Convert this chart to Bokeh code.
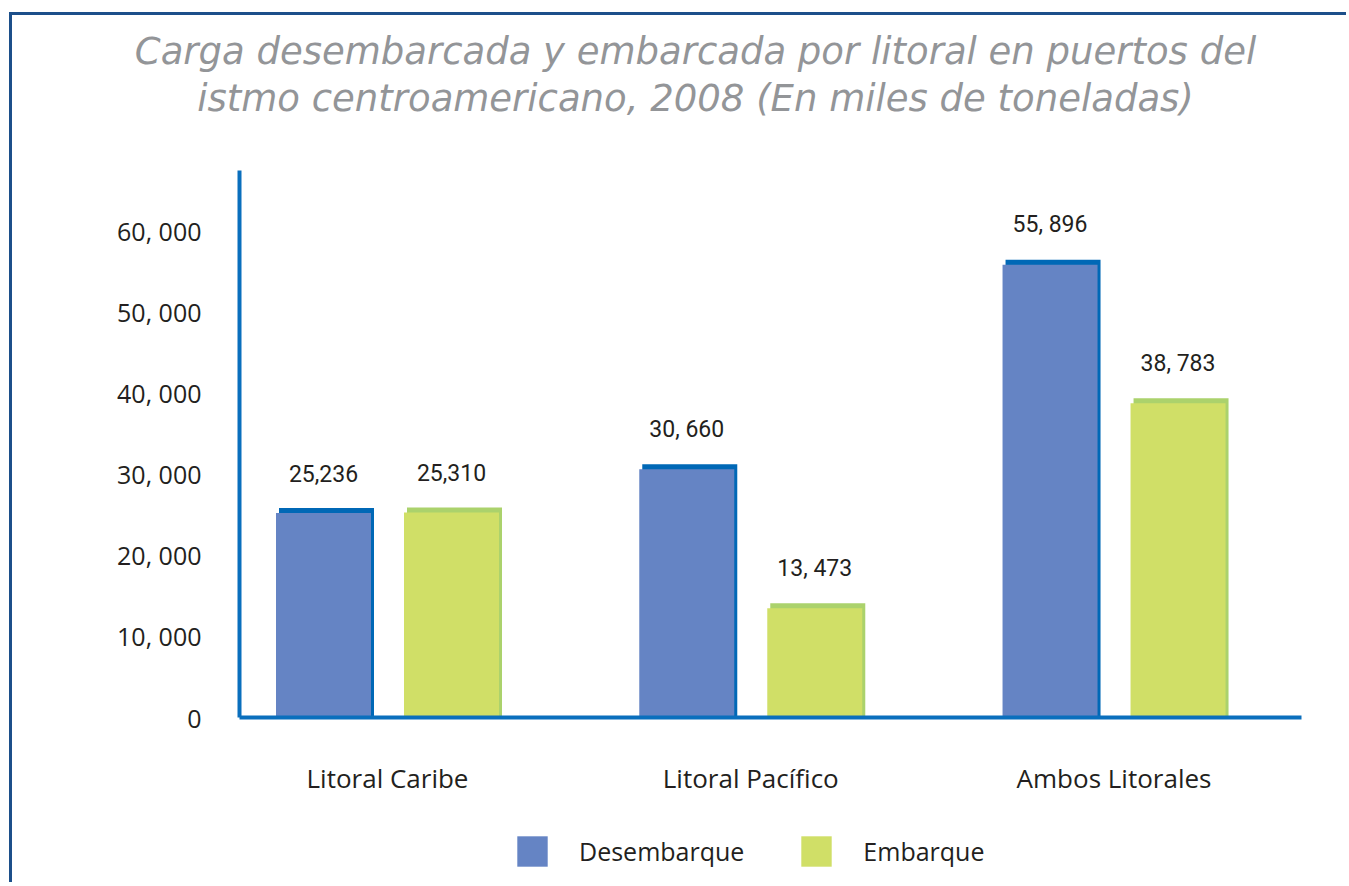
from bokeh.plotting import figure
from bokeh.models import Range1d, FixedTicker, Label, Legend, LegendItem
from bokeh.core.properties import value
from bokeh.embed import file_html
from bokeh.resources import INLINE

# ---------------- data ----------------
categories = ["Litoral Caribe", "Litoral Pacífico", "Ambos Litorales"]
series_names = ["Desembarque", "Embarque"]
desembarque = [25236, 30660, 55896]
embarque = [25310, 13473, 38783]
desembarque_labels = ["25,236", "30, 660", "55, 896"]
embarque_labels = ["25,310", "13, 473", "38, 783"]
y_ticks = [0, 10000, 20000, 30000, 40000, 50000, 60000]
y_tick_labels = ["0", "10, 000", "20, 000", "30, 000", "40, 000", "50, 000", "60, 000"]
title_lines = ["Carga desembarcada y embarcada por litoral en puertos del",
               "istmo centroamericano, 2008 (En miles de toneladas)"]

# ---------------- style / geometry ----------------
BLUE, BLUE_DARK = "#6584c4", "#0068b6"
GREEN, GREEN_DARK = "#d0df67", "#abd26c"
AXIS = "#0a6fbd"
FRAME = "#1c4f8a"
TXT = "#231f20"

W, H = 1337, 870          # canvas (frame fills it)
pxx = 363.27              # pixels per category step
pxy = 547 / 67530         # pixels per ton unit
cat0_px = 375             # canvas x of first category centre
zero_px = 702             # canvas y of value 0
axis_left_px, axis_right_px, axis_top_px = 227, 1289, 155

X0 = -cat0_px / pxx
X1 = X0 + W / pxx
Y0 = -(H - zero_px) / pxy
Y1 = zero_px / pxy

p = figure(width=W, height=H, output_backend="svg", toolbar_location=None,
           x_range=Range1d(X0, X1), y_range=Range1d(Y0, Y1),
           min_border=0, min_border_left=0, min_border_right=0,
           min_border_top=0, min_border_bottom=0)
p.styles = {"border-left": f"3px solid {FRAME}", "border-top": f"3px solid {FRAME}",
            "margin-left": "9px", "margin-top": "12px"}
p.outline_line_color = None
p.grid.visible = False
p.title.visible = False

idx = list(range(len(categories)))
bar_w = 95 / pxx
off = 64 / pxx
dx = 3 / pxx
dy = 5 / pxy

xd = [i - off for i in idx]
xe = [i + off for i in idx]

# back (darker) faces
p.vbar(x=[x + dx for x in xd], top=[v + dy for v in desembarque], bottom=0, width=bar_w,
       fill_color=BLUE_DARK, line_color=None)
p.vbar(x=[x + dx for x in xe], top=[v + dy for v in embarque], bottom=0, width=bar_w,
       fill_color=GREEN_DARK, line_color=None)
# front faces
r_d = p.vbar(x=xd, top=desembarque, bottom=0, width=bar_w, fill_color=BLUE, line_color=None)
r_e = p.vbar(x=xe, top=embarque, bottom=0, width=bar_w, fill_color=GREEN, line_color=None)

# value labels
for xs, vals, labs in [(xd, desembarque, desembarque_labels), (xe, embarque, embarque_labels)]:
    p.text(x=xs, y=vals, text=labs, y_offset=-40, text_align="center", text_baseline="middle",
           text_font=value("Roboto"), text_font_size="23px", text_color=TXT)

# axes at fixed locations inside the frame
x_axis_start = X0 + axis_left_px / pxx
x_axis_end = X0 + axis_right_px / pxx
y_axis_top = (zero_px - axis_top_px) / pxy

for ax in (p.xaxis[0], p.yaxis[0]):
    ax.axis_line_color = AXIS
    ax.axis_line_width = 4
    ax.major_tick_line_color = None
    ax.minor_tick_line_color = None
    ax.major_label_text_font = "Open Sans"
    ax.major_label_text_color = TXT

p.xaxis.fixed_location = 0
p.xaxis.bounds = (x_axis_start, x_axis_end)
p.xaxis.ticker = FixedTicker(ticks=idx)
p.xaxis.major_label_overrides = {i: c for i, c in zip(idx, categories)}
p.xaxis.major_label_standoff = 36
p.xaxis.major_label_text_font_size = "26px"

p.yaxis.fixed_location = x_axis_start
p.yaxis.bounds = (0, y_axis_top)
p.yaxis.ticker = FixedTicker(ticks=y_ticks)
p.yaxis.major_label_overrides = {t: l for t, l in zip(y_ticks, y_tick_labels)}
p.yaxis.major_label_standoff = 32
p.yaxis.major_label_text_font_size = "25px"

# legend
legend = Legend(items=[LegendItem(label=series_names[0], renderers=[r_d]),
                       LegendItem(label=series_names[1], renderers=[r_e])],
                location=(501, 15), orientation="horizontal",
                glyph_width=38, glyph_height=38, label_standoff=28, spacing=53,
                padding=0, margin=0, border_line_color=None, background_fill_alpha=0,
                label_text_font="Open Sans", label_text_font_size="25px",
                label_text_color=TXT, label_height=38)
p.add_layout(legend)

# title (two centred lines)
for ty, line in zip([H - 36, H - 83], title_lines):
    p.add_layout(Label(x=683, y=ty, x_units="screen", y_units="screen", text=line,
                       text_align="center", text_baseline="middle",
                       text_font="DejaVu Sans", text_font_style="italic",
                       text_font_size="37px", text_color="#939598"))

open("out.html", "w").write(file_html(p, INLINE))
